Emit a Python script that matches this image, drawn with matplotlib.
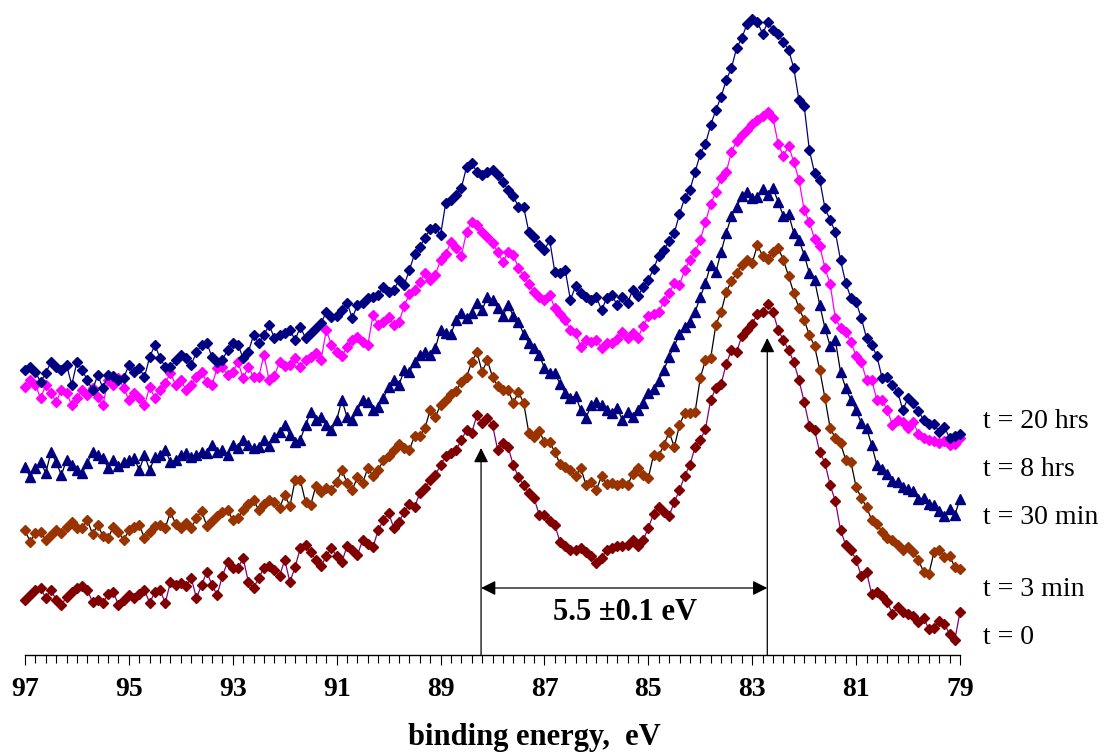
import numpy as np
import matplotlib
matplotlib.use("Agg")
import matplotlib.pyplot as plt
from matplotlib.ticker import MultipleLocator

# binding energy grid (eV), 0.1 eV steps from 97 to 79
energy = np.round(np.linspace(97.0, 79.0, 181), 2)

# intensities (arbitrary units, spectra stacked with offsets)
t0 = [55,60,65,67,57,65,55,50,58,63, 67,69,65,53,55,52,61,63,50,55,
      60,57,61,65,52,63,65,52,73,70, 72,69,77,57,70,83,70,60,79,93,
      87,87,97,73,67,77,87,89,85,79, 95,73,88,107,110,103,95,89,99,107,
      99,93,109,105,100,115,111,108,125,135, 142,127,133,143,151,148,162,167,175,180,
      190,199,202,205,215,225,222,240,232,237,230,
      205,212,208,190,178,170,162,157,140,
      140,134,130,113,109,105,105,107,103,99, 92,97,105,107,109,109,110,115,109,115,
      127,141,148,143,139,153,165,179,190,208, 215,226,255,267,271,291,305,303,319,325,
      331,341,343,351,343,325,315,305,293,275, 253,229,225,203,192,170,154,125,110,105,
      95,79,83,61,63,59,53,41,48,43, 41,39,33,37,26,27,34,31,21,15,43]

t3 = [125,113,122,123,115,120,125,122,128,133, 127,127,135,121,130,119,117,128,123,115,
      125,128,130,117,123,129,130,127,143,131, 127,132,127,137,144,129,134,139,143,145,
      135,137,145,151,155,145,151,155,153,147, 160,149,175,175,153,150,169,163,167,165,
      173,185,172,165,178,172,187,179,185,195, 199,205,211,207,205,219,219,227,245,238,
      250,255,261,264,273,278,293,303,283,295,278,
      269,265,265,252,263,252,222,218,224,
      213,213,203,191,188,185,179,187,170,173, 165,179,171,172,170,172,170,181,187,180,
      177,200,199,210,223,208,230,242,242,243, 277,295,297,330,343,363,374,382,390,395,
      392,410,399,396,403,407,395,379,362,347, 335,320,309,285,257,227,217,212,195,193,
      168,157,148,135,131,123,117,115,110,105, 108,103,95,83,81,103,105,98,99,88,86]

t30 = [188,178,187,193,182,203,193,180,195,190, 185,182,192,203,200,197,187,195,189,193,
       195,197,185,200,185,198,200,205,193,195, 200,202,198,200,203,202,210,203,205,200,
       210,207,215,210,207,208,215,209,218,223, 230,220,213,215,230,243,235,238,230,225,
       235,255,238,235,245,255,253,245,248,257, 268,275,270,285,283,293,300,303,300,307,
       325,322,321,335,342,337,342,352,345,358,355,
       347,339,350,339,333,321,312,307,300,
       287,282,282,271,262,257,259,245,237,250, 253,250,245,242,247,235,243,238,245,252,
       262,266,274,285,298,309,321,328,333,343, 358,372,390,383,403,422,439,448,459,463,
       457,458,466,460,467,453,439,441,422,415, 400,382,375,350,327,309,315,283,267,255,
       245,232,227,210,190,186,181,174,173,168, 166,164,156,157,151,150,144,139,146,140,156]

t8h = [268,275,270,257,270,262,253,265,262,250, 257,265,260,267,258,250,275,270,277,267,
       255,262,257,250,268,257,265,272,282,270, 275,265,270,278,283,273,270,287,288,280,
       283,293,277,288,278,278,300,275,279,293, 289,290,297,288,295,298,302,295,325,310,
       303,299,308,315,318,313,310,340,330,333, 338,330,333,349,361,365,373,382,375,380,
       395,401,413,407,399,423,433,430,423,418,412,
       403,393,403,400,387,379,371,363,358,
       355,360,347,341,335,325,322,308,315,313, 315,307,312,312,316,323,317,322,317,329,
       339,341,343,354,362,372,370,385,395,403, 415,433,451,463,477,483,503,514,520,525,
       531,535,539,543,537,511,499,509,493,475, 445,433,416,409,387,371,337,327,323,313,
       299,293,275,275,255,255,245,230,235,233, 227,233,221,217,215,214,212,214,210,211,217]

t20h = [285,288,283,273,282,293,288,285,290,270, 293,285,275,265,280,267,280,279,275,277,
        290,283,287,278,298,310,297,288,288,295, 300,297,290,303,310,312,298,293,295,305,
        312,310,297,303,320,312,320,330,317,320, 322,325,315,328,317,322,327,332,343,338,
        339,345,352,337,350,352,357,358,360,368, 363,365,375,370,385,401,408,417,426,427,
        420,452,455,460,467,488,492,483,480,483,485,
        480,473,465,459,448,448,423,418,410,
        405,415,383,382,385,355,369,362,358,355, 358,345,357,360,350,358,352,365,359,368,
        375,386,399,405,414,422,441,457,465,483, 501,511,530,545,558,575,587,607,617,631,
        636,633,621,633,625,621,613,605,587,555, 549,505,482,475,447,435,423,395,372,357,
        353,337,317,310,299,277,278,270,263,245, 257,252,244,235,231,231,223,228,217,219,221]

series_labels = ["t = 0", "t = 3 min", "t = 30 min", "t = 8 hrs", "t = 20 hrs"]
label_y = [18, 66, 138, 186, 233]
peak_energies = [88.22, 82.71]
peak_tops = [207, 317]
separation_text = "5.5 \u00b10.1 eV"
x_ticks = [97, 95, 93, 91, 89, 87, 85, 83, 81, 79]

serif = ["Liberation Serif", "DejaVu Serif"]

fig = plt.figure(figsize=(11.2, 7.54), dpi=100)
ax = fig.add_axes([25/1120, (754-655)/754, 935/1120, 655/754])

styles = [
    dict(marker="D", color="#800080", mfc="#800000", mec="#800000", ms=4.8, lw=0.9),
    dict(marker="D", color="black", mfc="#993300", mec="#993300", ms=4.8, lw=0.9),
    dict(marker="^", color="black", mfc="#000080", mec="#000080", ms=6.8, lw=0.9),
    dict(marker="D", color="#FF00FF", mfc="#FF00FF", mec="#FF00FF", ms=4.8, lw=0.9),
    dict(marker="D", color="#000080", mfc="#000080", mec="#000080", ms=4.8, lw=0.9),
]
for data, st in zip([t0, t3, t30, t8h, t20h], styles):
    ax.plot(energy, data, clip_on=False, **st)

ax.set_xlim(97, 79)
ax.set_ylim(0, 655)
for s in ["left", "right", "top"]:
    ax.spines[s].set_visible(False)
ax.spines["bottom"].set_linewidth(1.0)
ax.set_yticks([])
ax.set_xticks(x_ticks)
ax.xaxis.set_minor_locator(MultipleLocator(0.2))
ax.tick_params(axis="x", which="major", direction="out", length=7, width=0.8, pad=9)
ax.tick_params(axis="x", which="minor", direction="out", length=6, width=0.8)
for lab in ax.get_xticklabels():
    lab.set_fontfamily(serif)
    lab.set_fontweight("bold")
    lab.set_fontsize(20)
ax.set_xlabel("binding energy,  eV", fontfamily=serif, fontweight="bold",
              fontsize=22, labelpad=12)
ax.xaxis.set_label_coords(0.545, -0.104)

for txt, yv in zip(series_labels, label_y):
    ax.text(78.56, yv, txt, fontfamily=serif, fontsize=20, ha="left", va="center",
            clip_on=False)

# peak markers and separation
for e, top in zip(peak_energies, peak_tops):
    ax.annotate("", xy=(e, top), xytext=(e, 0),
                arrowprops=dict(arrowstyle="-|>", color="black", lw=0.9,
                                mutation_scale=22, shrinkA=0, shrinkB=0))
ax.annotate("", xy=(peak_energies[1], 67), xytext=(peak_energies[0], 67),
            arrowprops=dict(arrowstyle="<|-|>", color="black", lw=0.9,
                            mutation_scale=22, shrinkA=0, shrinkB=0))
ax.text(85.45, 43, separation_text, fontfamily=serif, fontweight="bold",
        fontsize=22, ha="center", va="center")

fig.savefig("out.png", dpi=100)
